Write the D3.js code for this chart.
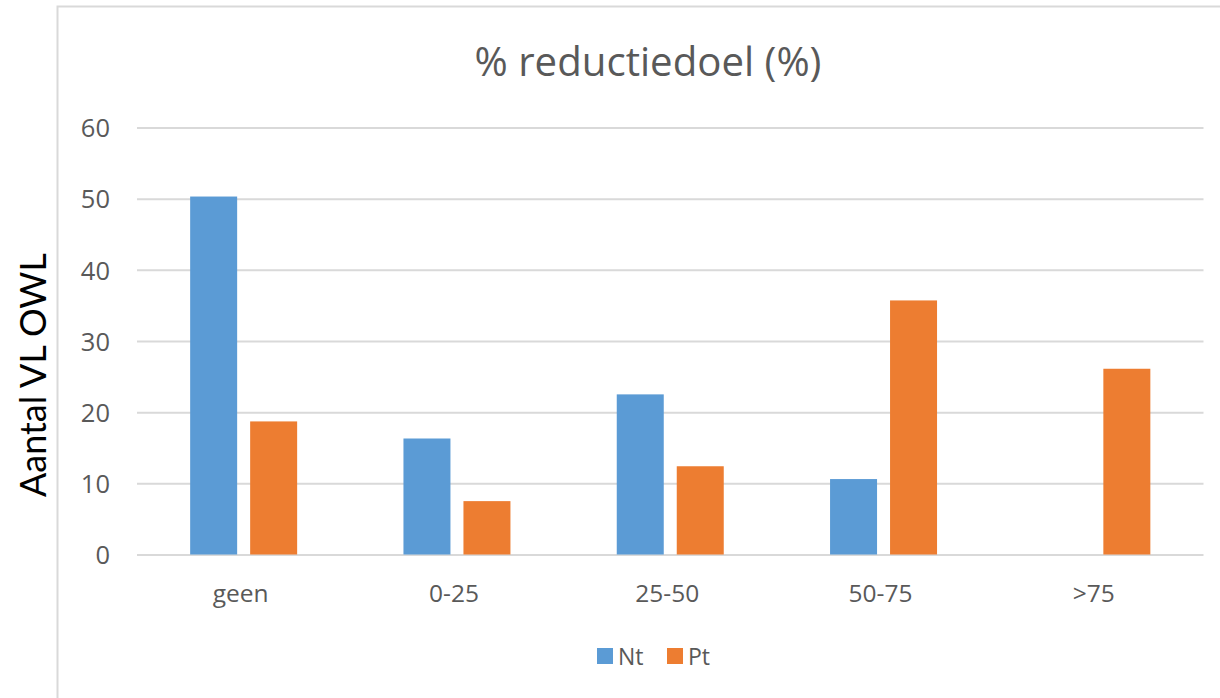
<!DOCTYPE html>
<html>
<head>
<meta charset="utf-8">
<script src="https://cdn.jsdelivr.net/npm/d3@7"></script>
<style>
html,body{margin:0;padding:0;background:#fff;}
svg{display:block;}
</style>
</head>
<body>
<svg id="chart" width="1220" height="698"></svg>
<script>
const categories = ["geen", "0-25", "25-50", "50-75", ">75"];
const seriesNames = ["Nt", "Pt"];
const ntValues = [50.3, 16.3, 22.5, 10.6, 0];
const ptValues = [18.7, 7.5, 12.4, 35.7, 26.1];
const yTicks = [0, 10, 20, 30, 40, 50, 60];
const colors = ["#5B9BD5", "#ED7D31"];
const titleText = "% reductiedoel (%)";
const yTitleText = "Aantal VL OWL";

const svg = d3.select("#chart");

// Frame
svg.append("rect").attr("x", 57.5).attr("y", 6.5).attr("width", 1180).attr("height", 720)
  .attr("fill", "#fff").attr("stroke", "#d9d9d9").attr("stroke-width", 2);

const plot = {left: 137, right: 1203.5, top: 127.5, bottom: 554.5};

const x0 = d3.scaleBand().domain(categories).range([plot.left, plot.right]).paddingInner(0).paddingOuter(0);
const x1 = d3.scaleBand().domain(seriesNames).range([0, x0.bandwidth()]).paddingInner(0.2167).paddingOuter(0.886);
const y = d3.scaleLinear().domain([0, 60]).range([plot.bottom, plot.top]);

function fit(sel, target) {
  const w = sel.node().getComputedTextLength();
  const fs = parseFloat(sel.attr("font-size"));
  sel.attr("font-size", fs * target / w);
}

// gridlines
const yAxis = d3.axisLeft(y).tickValues(yTicks).tickSize(-(plot.right - plot.left)).tickPadding(27);
const gy = svg.append("g").attr("transform", `translate(${plot.left},0)`).call(yAxis);
gy.select(".domain").remove();
gy.selectAll(".tick line").attr("stroke", "#d9d9d9").attr("stroke-width", 2);
gy.selectAll(".tick text").attr("fill", "#595959").attr("font-family", "Open Sans")
  .attr("font-size", 25.5).attr("dy", "0.36em");

// bars
const data = categories.map((c, i) => ({cat: c, vals: [ntValues[i], ptValues[i]]}));
const groups = svg.append("g").selectAll("g").data(data).join("g")
  .attr("transform", d => `translate(${x0(d.cat)},0)`);
groups.selectAll("rect").data(d => d.vals.map((v, j) => ({s: seriesNames[j], v, j})))
  .join("rect")
  .attr("x", d => x1(d.s))
  .attr("width", x1.bandwidth())
  .attr("y", d => y(d.v))
  .attr("height", d => y(0) - y(d.v))
  .attr("fill", d => colors[d.j]);

// x axis labels
const xAxis = d3.axisBottom(x0).tickSize(0).tickPadding(0);
const gx = svg.append("g").attr("transform", `translate(-3,${plot.bottom})`).call(xAxis);
gx.select(".domain").remove();
gx.selectAll(".tick text").attr("fill", "#595959").attr("font-family", "Open Sans")
  .attr("font-size", 24.5).attr("dy", 0).attr("y", 47.5);

// title
const t = svg.append("text").attr("x", 648).attr("y", 76).attr("text-anchor", "middle")
  .attr("fill", "#595959").attr("font-family", "Open Sans").attr("font-size", 34).text(titleText);
fit(t, 347);

// y title
const yt = svg.append("text").attr("transform", "translate(46,375) rotate(-90)")
  .attr("text-anchor", "middle").attr("fill", "#000").attr("font-family", "Lato")
  .attr("font-size", 34).text(yTitleText);
fit(yt, 244);

// legend
const legend = svg.append("g");
const legX = [597, 667];
seriesNames.forEach((s, i) => {
  legend.append("rect").attr("x", legX[i]).attr("y", 648).attr("width", 16).attr("height", 16).attr("fill", colors[i]);
  legend.append("text").attr("x", legX[i] + 21).attr("y", 665).attr("fill", "#595959")
    .attr("font-family", "Open Sans").attr("font-size", 23).text(s);
});
</script>
</body>
</html>
